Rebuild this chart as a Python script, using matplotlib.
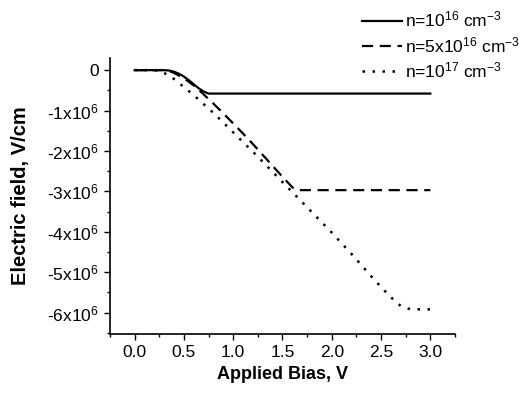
import matplotlib
matplotlib.use("Agg")
import matplotlib.pyplot as plt
from matplotlib.ticker import MultipleLocator, FuncFormatter

plt.rcParams['font.family'] = ['Liberation Sans', 'DejaVu Sans']
plt.rcParams['mathtext.default'] = 'regular'

# Data (field in units of 1e6 V/cm)
x1 = [0, 0.1, 0.2, 0.3, 0.35, 0.4, 0.45, 0.5, 0.55, 0.6, 0.65, 0.7, 0.75, 0.8, 1.0, 1.5, 2.0, 2.5, 3.0]
y1 = [0, 0, 0, 0, -0.01, -0.04, -0.09, -0.16, -0.25, -0.35, -0.45, -0.53, -0.58, -0.58, -0.58, -0.58, -0.58, -0.58, -0.58]

x2 = [0, 0.1, 0.2, 0.3, 0.35, 0.4, 0.5, 0.6, 0.7, 0.8, 0.9, 1.0, 1.1, 1.2, 1.3, 1.4, 1.5, 1.6, 1.65, 1.7, 2.0, 2.5, 3.0]
y2 = [0, 0, 0, 0, -0.02, -0.07, -0.2, -0.38, -0.6, -0.83, -1.07, -1.32, -1.57, -1.83, -2.1, -2.37, -2.64, -2.9, -2.97, -2.97, -2.97, -2.97, -2.97]

x3 = [0, 0.1, 0.2, 0.25, 0.3, 0.4, 0.5, 0.6, 0.7, 0.8, 0.9, 1.0, 1.2, 1.4, 1.6, 1.8, 2.0, 2.2, 2.4, 2.5, 2.6, 2.7, 2.8, 2.9, 3.0]
y3 = [0, 0, 0, -0.02, -0.07, -0.22, -0.42, -0.62, -0.84, -1.06, -1.3, -1.54, -2.02, -2.52, -3.02, -3.52, -4.02, -4.55, -5.1, -5.37, -5.62, -5.84, -5.92, -5.92, -5.92]

labels = ["n=10$^{16}$ cm$^{-3}$", "n=5x10$^{16}$ cm$^{-3}$", "n=10$^{17}$ cm$^{-3}$"]

fig = plt.figure(figsize=(5.27, 3.96), dpi=100)
ax = fig.add_axes([0.2087, 0.1566, 0.8634 - 0.2087, 0.8535 - 0.1566])

scale = 1e6
l1, = ax.plot(x1, [v * scale for v in y1], color='black', lw=1.6, ls='-')
l2, = ax.plot(x2, [v * scale for v in y2], color='black', lw=1.6, ls=(0, (5, 3)))
l3, = ax.plot(x3, [v * scale for v in y3], color='black', lw=1.8, ls=(0, (1, 3)))

ax.set_xlim(-0.25, 3.25)
ax.set_ylim(-6.53e6, 0.3e6)

ax.spines['top'].set_visible(False)
ax.spines['right'].set_visible(False)
for s in ('left', 'bottom'):
    ax.spines[s].set_linewidth(1.2)

ax.xaxis.set_major_locator(MultipleLocator(0.5))
ax.xaxis.set_minor_locator(MultipleLocator(0.25))
ax.yaxis.set_major_locator(MultipleLocator(1e6))
ax.yaxis.set_minor_locator(MultipleLocator(0.5e6))
ax.tick_params(which='major', direction='out', length=4, width=1.0, labelsize=12.5, pad=4)
ax.tick_params(which='minor', direction='out', length=2.5, width=1.0)

def yfmt(v, pos):
    n = int(round(v / 1e6))
    if n == 0:
        return "0"
    return "%dx10$^{6}$" % n

ax.yaxis.set_major_formatter(FuncFormatter(yfmt))
ax.xaxis.set_major_formatter(FuncFormatter(lambda v, p: "%.1f" % v))

ax.set_xlabel("Applied Bias, V", fontsize=13, fontweight='bold', labelpad=4.5)
ax.set_ylabel("Electric field, V/cm", fontsize=14.5, fontweight='bold', labelpad=12.5)

fig.legend([l1, l2, l3], labels, loc='upper left', bbox_to_anchor=(362 / 527, 1 - 10 / 396),
           frameon=False, fontsize=12.5, handlelength=2.3, handletextpad=0.2,
           labelspacing=0.3, borderaxespad=0, borderpad=0)

fig.savefig("out.png", dpi=100)
